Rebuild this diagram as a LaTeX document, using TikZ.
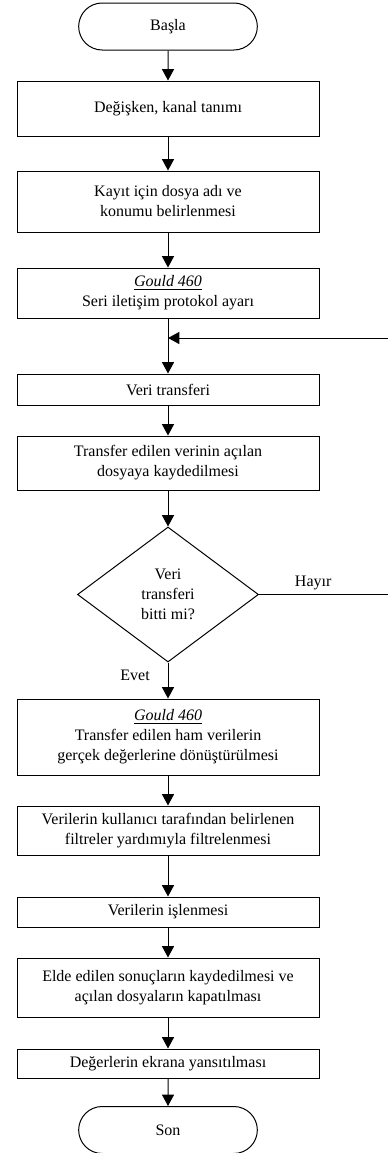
\documentclass[tikz,border=0pt]{standalone}
\usepackage{fontspec}
\setmainfont{Liberation Serif}
\usetikzlibrary{shapes.geometric,shapes.misc,arrows.meta}

\begin{document}
\begin{tikzpicture}[x=0.75pt,y=-0.75pt]
\tikzstyle{flowline}=[draw=black, line width=0.75pt]
\tikzstyle{flowarrow}=[flowline, -{Triangle[length=8.5pt,width=9pt]}]
\tikzstyle{stepbox}=[draw=black, line width=0.75pt, minimum width=226.5pt, align=center, inner sep=2pt, font=\fontsize{12}{15}\selectfont]
\tikzstyle{terminal}=[stepbox, rounded rectangle, minimum width=138pt, minimum height=35.25pt]
\tikzstyle{decision}=[stepbox, diamond, minimum width=135.75pt, minimum height=101.25pt, inner sep=0pt]
\tikzstyle{answer}=[font=\fontsize{12}{15}\selectfont]

\useasboundingbox (0,0) rectangle (387,1153);

% Steps, top to bottom
\node[terminal] (basla) at (168, 26.5) {Başla};
\node[stepbox, minimum height=41.25pt] (tanim) at (168, 108.5) {Değişken, kanal tanımı};
\node[stepbox, minimum height=45.75pt] (dosya) at (168, 201.5) {Kayıt için dosya adı ve\\konumu belirlenmesi};
\node[stepbox, minimum height=37.5pt] (protokol) at (168, 293) {\underline{\textit{Gould 460}}\\Seri iletişim protokol ayarı};
\node[stepbox, minimum height=23.25pt] (transfer) at (168, 389.5) {Veri transferi};
\node[stepbox, minimum height=40.5pt] (kayit) at (168, 463) {Transfer edilen verinin açılan\\dosyaya kaydedilmesi};
\node[decision] (bitti) at (168, 594.5) {Veri\\transferi\\bitti mi?};
\node[stepbox, minimum height=57pt] (donusum) at (168, 737) {\underline{\textit{Gould 460}}\\Transfer edilen ham verilerin\\gerçek değerlerine dönüştürülmesi};
\node[stepbox, minimum height=36.75pt] (filtre) at (168, 830.5) {Verilerin kullanıcı tarafından belirlenen\\filtreler yardımıyla filtrelenmesi};
\node[stepbox, minimum height=22.5pt] (islem) at (168, 912) {Verilerin işlenmesi};
\node[stepbox, minimum height=44.25pt] (sonuc) at (168, 987.5) {Elde edilen sonuçların kaydedilmesi ve\\açılan dosyaların kapatılması};
\node[stepbox, minimum height=21.75pt] (ekran) at (168, 1063.5) {Değerlerin ekrana yansıtılması};
\node[terminal] (son) at (168, 1130) {Son};

\coordinate (merge) at (168, 338);
\coordinate (loopcorner) at (388, 338);

% Main flow
\path[flowarrow] (basla) -- (tanim);
\path[flowarrow] (tanim) -- (dosya);
\path[flowarrow] (dosya) -- (protokol);
\path[flowline] (protokol) -- (merge);
\path[flowarrow] (merge) -- (transfer);
\path[flowarrow] (transfer) -- (kayit);
\path[flowarrow] (kayit) -- (bitti);
\path[flowarrow] (bitti.south) -- (donusum) node[answer, pos=0.35, left=10pt] {Evet};
\path[flowarrow] (donusum) -- (filtre);
\path[flowarrow] (filtre) -- (islem);
\path[flowarrow] (islem) -- (sonuc);
\path[flowarrow] (sonuc) -- (ekran);
\path[flowarrow] (ekran) -- (son);

% Loop back
\path[flowarrow] (bitti.east) -- (bitti.east -| loopcorner) node[answer, above, pos=0.42] {Hayır} -- (loopcorner) -- (merge);
\end{tikzpicture}
\end{document}
